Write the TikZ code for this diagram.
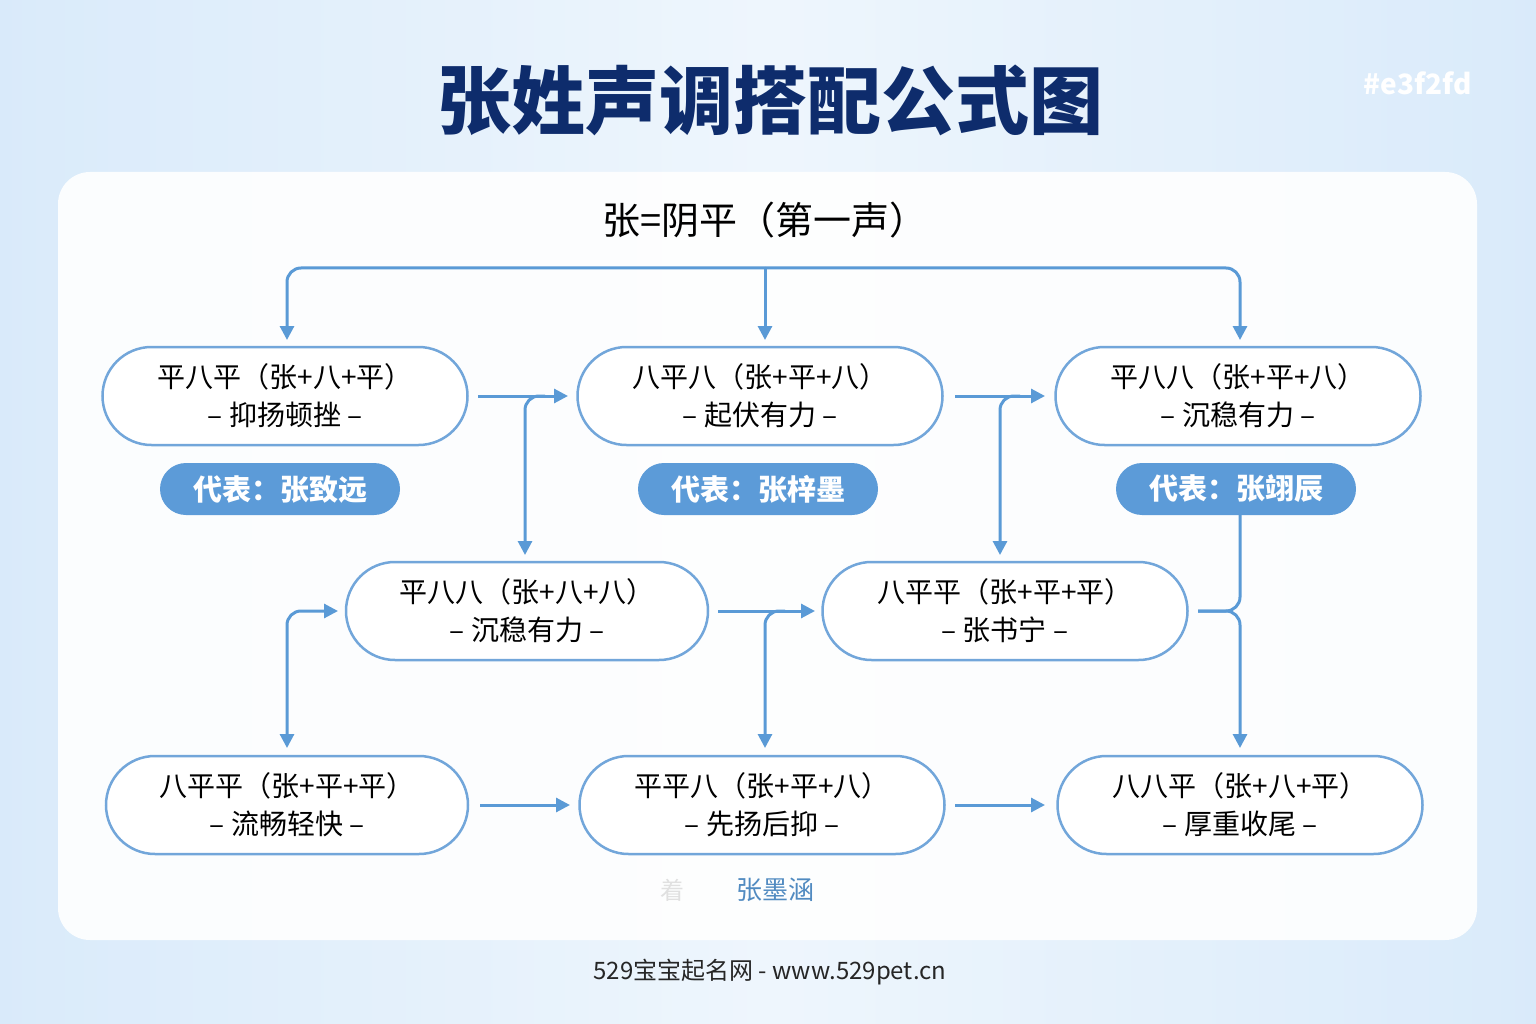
\documentclass[tikz,border=0pt]{standalone}
\usepackage{fontspec}
\setmainfont{Noto Sans CJK SC}
\usetikzlibrary{arrows.meta}
\definecolor{bgA}{HTML}{E6F2FC}
\definecolor{bgB}{HTML}{C6E0F8}
\definecolor{navy}{HTML}{0E2C6C}
\definecolor{edge}{HTML}{72A6DA}
\definecolor{arr}{HTML}{5A9AD6}
\definecolor{badge}{HTML}{5C9BD8}
\begin{document}
\begin{tikzpicture}[x=1pt,y=-1pt,
  pill/.style={draw=edge,line width=2.5pt,fill=white,rounded corners=49pt,minimum width=365pt,minimum height=98pt,align=center,font=\fontsize{28}{38}\selectfont,inner sep=0pt},
  bdg/.style={fill=badge,rounded corners=26pt,minimum width=240pt,minimum height=52pt,text=white,font=\fontsize{29}{32}\selectfont\bfseries,inner sep=0pt},
  ar/.style={draw=arr,line width=3pt,-{Triangle[length=14pt,width=14pt]},rounded corners=14pt}]
\useasboundingbox (0,0) rectangle (1536,1024);
\shade[left color=bgB,right color=bgB,middle color=bgA] (0,0) rectangle (1536,1024);
\fill[white,opacity=0.35] (0,0) rectangle (1536,1024);
\fill[white,opacity=0.9,rounded corners=32pt] (58,172) rectangle (1477,940);
\node[text=navy,font=\fontsize{74}{80}\selectfont\bfseries] (title) at (770,100) {张姓声调搭配公式图};
\node[text=white,font=\fontsize{28}{30}\selectfont\bfseries] (hex) at (1418,83) {\#e3f2fd};
\node[font=\fontsize{38}{42}\selectfont] (root) at (765,220) {张=阴平（第一声）};
\node[pill] (a1) at (285,396) {平八平（张+八+平）\\– 抑扬顿挫 –};
\node[pill] (a2) at (760,396) {八平八（张+平+八）\\– 起伏有力 –};
\node[pill] (a3) at (1238,396) {平八八（张+平+八）\\– 沉稳有力 –};
\node[bdg] (b1) at (280,489) {代表：张致远};
\node[bdg] (b2) at (758,489) {代表：张梓墨};
\node[bdg] (b3) at (1236,489) {代表：张翊辰};
\node[pill,minimum width=362pt] (m1) at (527,611) {平八八（张+八+八）\\– 沉稳有力 –};
\node[pill] (m2) at (1005,611) {八平平（张+平+平）\\– 张书宁 –};
\node[pill,minimum width=362pt] (c1) at (287,805) {八平平（张+平+平）\\– 流畅轻快 –};
\node[pill] (c2) at (762,805) {平平八（张+平+八）\\– 先扬后抑 –};
\node[pill] (c3) at (1240,805) {八八平（张+八+平）\\– 厚重收尾 –};
\node[text=black!12,font=\fontsize{24}{26}\selectfont] (faint) at (672,890) {着};
\node[text=arr!90!black,font=\fontsize{26}{28}\selectfont] (moh) at (775,890) {张墨涵};
\node[text=black!85,font=\fontsize{24}{26}\selectfont] (foot) at (770,972) {529宝宝起名网 - www.529pet.cn};
\coordinate (top) at (765,268);
\draw[ar] (top) -| (287,340);
\draw[ar] (top) -| (1240,340);
\draw[ar] (top) -- (765,340);
\draw[ar] (478,396) -- (568,396);
\draw[ar] (545,396) -| (525,555);
\draw[ar] (955,396) -- (1045,396);
\draw[ar] (1020,396) -| (1000,555);
\draw[ar] (718,611) -- (815,611);
\draw[ar] (785,611) -| (765,748);
\draw[ar,{Triangle[length=14pt,width=14pt]}-{Triangle[length=14pt,width=14pt]}] (338,611) -| (287,748);
\draw[draw=arr,line width=3pt,rounded corners=14pt] (1198,611) -| (1240,515);
\draw[ar] (1198,611) -| (1240,748);
\draw[ar] (480,805) -- (570,805);
\draw[ar] (955,805) -- (1045,805);
\end{tikzpicture}
\end{document}
